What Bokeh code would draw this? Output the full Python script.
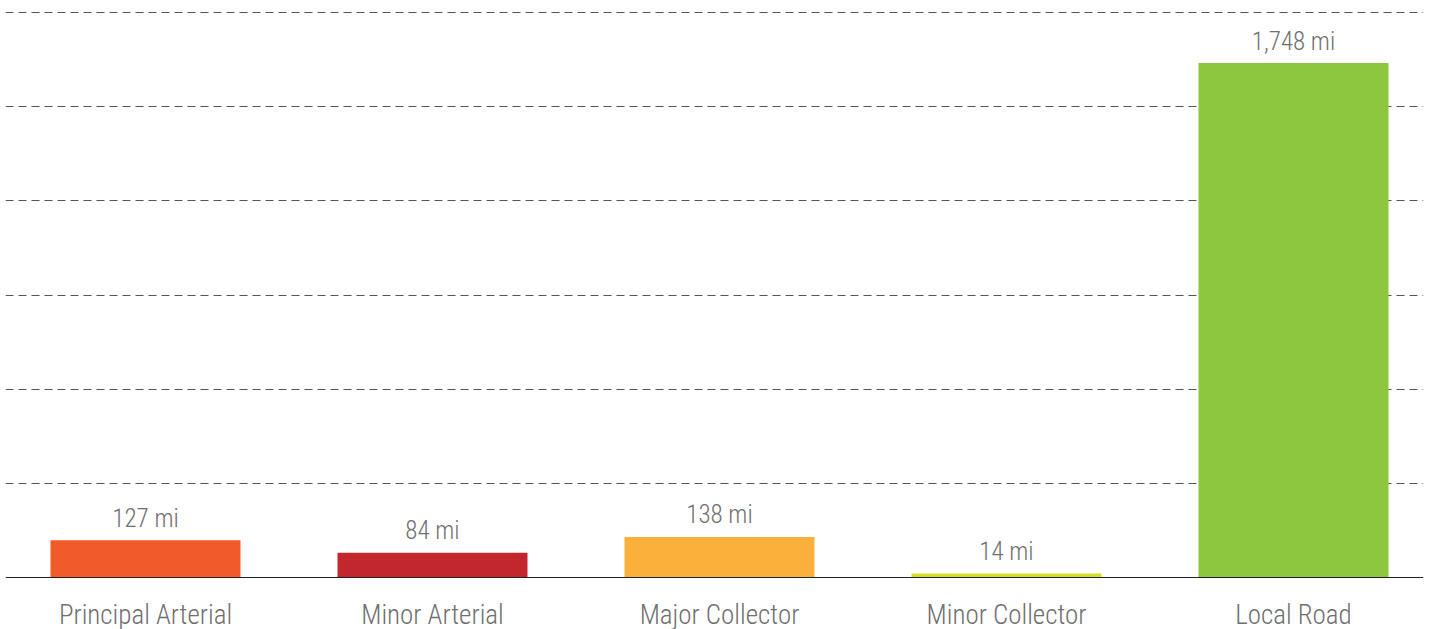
from bokeh.plotting import figure
from bokeh.models import ColumnDataSource, FixedTicker, Range1d, Span
from bokeh.core.properties import value
from bokeh.embed import file_html
from bokeh.resources import INLINE

categories = ["Principal Arterial", "Minor Arterial", "Major Collector", "Minor Collector", "Local Road"]
miles = [127, 84, 138, 14, 1748]
colors = ["#F15A29", "#C1272D", "#FBB03B", "#D7DF23", "#8DC63F"]
grid_ticks = [320, 640, 960, 1280, 1600, 1920]

FONT = "'Roboto Condensed Light', 'Roboto Condensed', 'Liberation Sans Narrow', Roboto"
TEXT_COLOR = "#6f6f6f"

# layout: frame spans y pixels 10..629; value 0 at pixel 577, top grid value at pixel 12
PX_PER_UNIT = (577 - 12) / grid_ticks[-1]
y_end = grid_ticks[-1] + 2 / PX_PER_UNIT
y_start = -(629 - 577) / PX_PER_UNIT

xs = list(range(len(categories)))
labels = [f"{v:,} mi" for v in miles]
zeros = [0] * len(categories)
src = ColumnDataSource(dict(x=xs, top=miles, color=colors, label=labels, cat=categories, zero=zeros))

p = figure(width=1428, height=629, output_backend="svg", toolbar_location=None,
           x_range=Range1d(-0.4878, 4.453), y_range=Range1d(y_start, y_end),
           min_border_left=5, min_border_right=5, min_border_top=10, min_border_bottom=0)
p.outline_line_color = None
p.background_fill_color = "white"
p.border_fill_color = "white"
p.xaxis.visible = False
p.yaxis.visible = False
p.xgrid.visible = False

p.ygrid.ticker = FixedTicker(ticks=grid_ticks)
p.ygrid.grid_line_color = "#555555"
p.ygrid.grid_line_dash = "8 5"
p.ygrid.grid_line_width = 1

p.vbar(x="x", top="top", width=0.662, bottom=0, color="color", source=src, line_color=None)
p.add_layout(Span(location=0, dimension="width", line_color="#222222", line_width=1))

p.text(x="x", y="top", text="label", source=src, text_align="center", text_baseline="alphabetic",
       y_offset=-22, text_font=value(FONT), text_font_size="25px", text_color=TEXT_COLOR)
p.text(x="x", y="zero", text="cat", source=src, text_align="center", text_baseline="alphabetic",
       y_offset=37, text_font=value(FONT), text_font_size="27px", text_color=TEXT_COLOR)

open("out.html", "w").write(file_html(p, INLINE))
